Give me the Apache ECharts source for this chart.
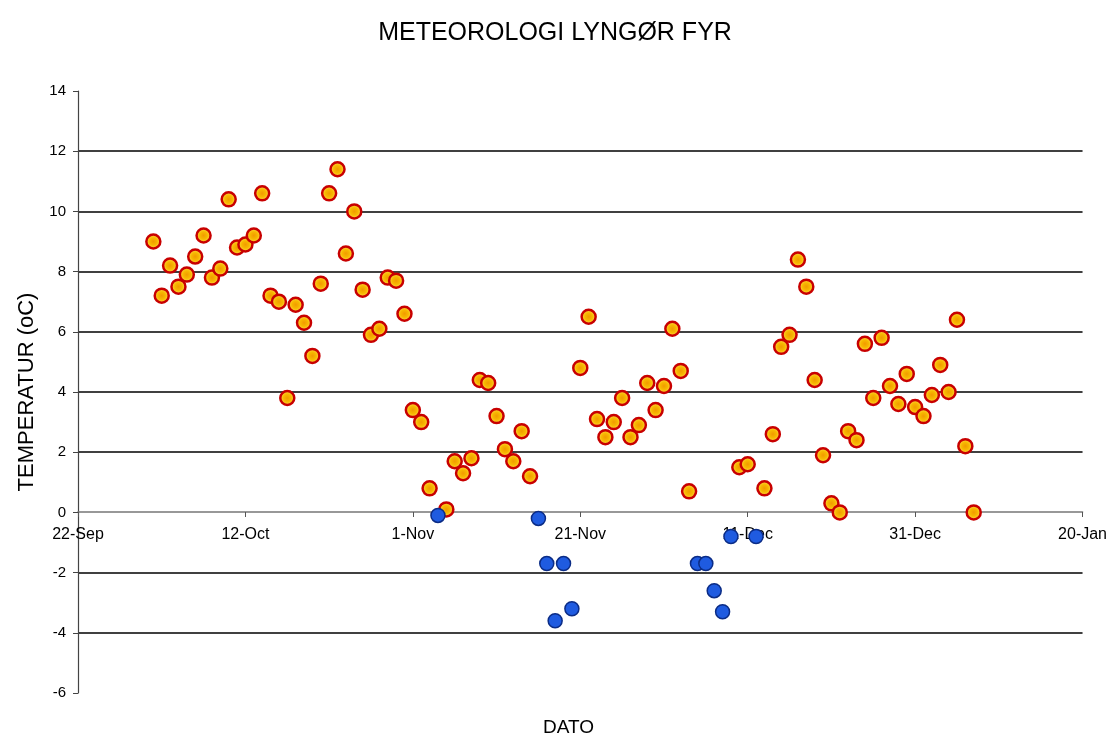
<!DOCTYPE html>
<html>
<head>
<meta charset="utf-8">
<script src="https://cdn.jsdelivr.net/npm/echarts@6/dist/echarts.min.js"></script>
<style>
html,body{margin:0;padding:0;background:#fff;}
#chart{width:1110px;height:736px;}
</style>
</head>
<body>
<div id="chart"></div>
<script>
// x values: days after 22-Sep
const tickLabels = ['22-Sep','12-Oct','1-Nov','21-Nov','11-Dec','31-Dec','20-Jan'];

const warmDays = [9,10,11,12,13,14,15,16,17,18,19,20,21,22,23,24,25,26,27,28,29,30,31,32,33,34,35,36,37,38,39,40,41,42,
  44,45,46,47,48,49,50,51,52,53,54,
  60,61,62,63,64,65,66,67,68,69,70,71,72,73,
  79,80,82,83,84,85,86,87,88,89,90,91,92,93,94,95,96,97,98,99,100,101,102,103,104,105,106,107];
const warmTemps = [9.0,7.2,8.2,7.5,7.9,8.5,9.2,7.8,8.1,10.4,8.8,8.9,9.2,10.6,7.2,7.0,3.8,6.9,6.3,5.2,7.6,10.6,11.4,8.6,10.0,7.4,5.9,6.1,7.8,7.7,6.6,3.4,3.0,0.8,
  0.1,1.7,1.3,1.8,4.4,4.3,3.2,2.1,1.7,2.7,1.2,
  4.8,6.5,3.1,2.5,3.0,3.8,2.5,2.9,4.3,3.4,4.2,6.1,4.7,0.7,
  1.5,1.6,0.8,2.6,5.5,5.9,8.4,7.5,4.4,1.9,0.3,0.0,2.7,2.4,5.6,3.8,5.8,4.2,3.6,4.6,3.5,3.2,3.9,4.9,4.0,6.4,2.2,0.0];

const frostDays = [43,55,56,57,58,59,74,75,76,77,78,81];
const frostTemps = [-0.1,-0.2,-1.7,-3.6,-1.7,-3.2,-1.7,-1.7,-2.6,-3.3,-0.8,-0.8];

const chart = echarts.init(document.getElementById('chart'), null, {renderer:'canvas'});
const FONT = 'Liberation Sans';

chart.setOption({
  backgroundColor:'#fff',
  animation:false,
  title:[
    {text:'METEOROLOGI LYNGØR FYR', left:'center', top:16,
     textStyle:{fontFamily:FONT, fontSize:25, fontWeight:'normal', color:'#000'}},
    {text:'DATO', left:538, top:713,
     textStyle:{fontFamily:FONT, fontSize:19, fontWeight:'normal', color:'#000'}}
  ],
  grid:{left:78, right:27, top:91, bottom:43, containLabel:false},
  xAxis:{
    type:'value', min:0, max:120, interval:20,
    position:'bottom', offset:-181,
    axisLine:{show:true, onZero:false, lineStyle:{color:'#777', width:1.5}},
    axisTick:{show:true, length:5, lineStyle:{color:'#555'}},
    axisLabel:{formatter:v=>tickLabels[Math.round(v/20)], fontFamily:FONT, fontSize:16, color:'#000', margin:15},
    splitLine:{show:false}
  },
  yAxis:{
    type:'value', min:-6, max:14, interval:2,
    name:'TEMPERATUR (oC)', nameLocation:'middle', nameGap:39,
    nameTextStyle:{fontFamily:FONT, fontSize:22, color:'#000'},
    axisLine:{show:true, lineStyle:{color:'#444', width:1.2}},
    axisTick:{show:true, length:5, lineStyle:{color:'#444'}},
    axisLabel:{fontFamily:FONT, fontSize:15, color:'#000', margin:12},
    splitLine:{show:true, lineStyle:{width:1.6,
      color:['rgba(0,0,0,0)','#000','#000','rgba(0,0,0,0)','#000','#000','#000','#000','#000','#000','rgba(0,0,0,0)']}}
  },
  series:[
    {
      type:'scatter', symbol:'circle', symbolSize:14,
      data:warmDays.map((d,i)=>[d,warmTemps[i]]),
      itemStyle:{
        color:{type:'radial', x:0.5, y:0.5, r:0.5,
          colorStops:[{offset:0,color:'#F29A00'},{offset:0.45,color:'#F7B800'},{offset:1,color:'#FFE35A'}]},
        borderColor:'#C80000', borderWidth:2.5, opacity:1
      },
      z:3
    },
    {
      type:'scatter', symbol:'circle', symbolSize:14,
      data:frostDays.map((d,i)=>[d,frostTemps[i]]),
      itemStyle:{color:'#1F5BE0', borderColor:'#0B2C86', borderWidth:1.5, opacity:1},
      z:4
    }
  ]
});
</script>
</body>
</html>
